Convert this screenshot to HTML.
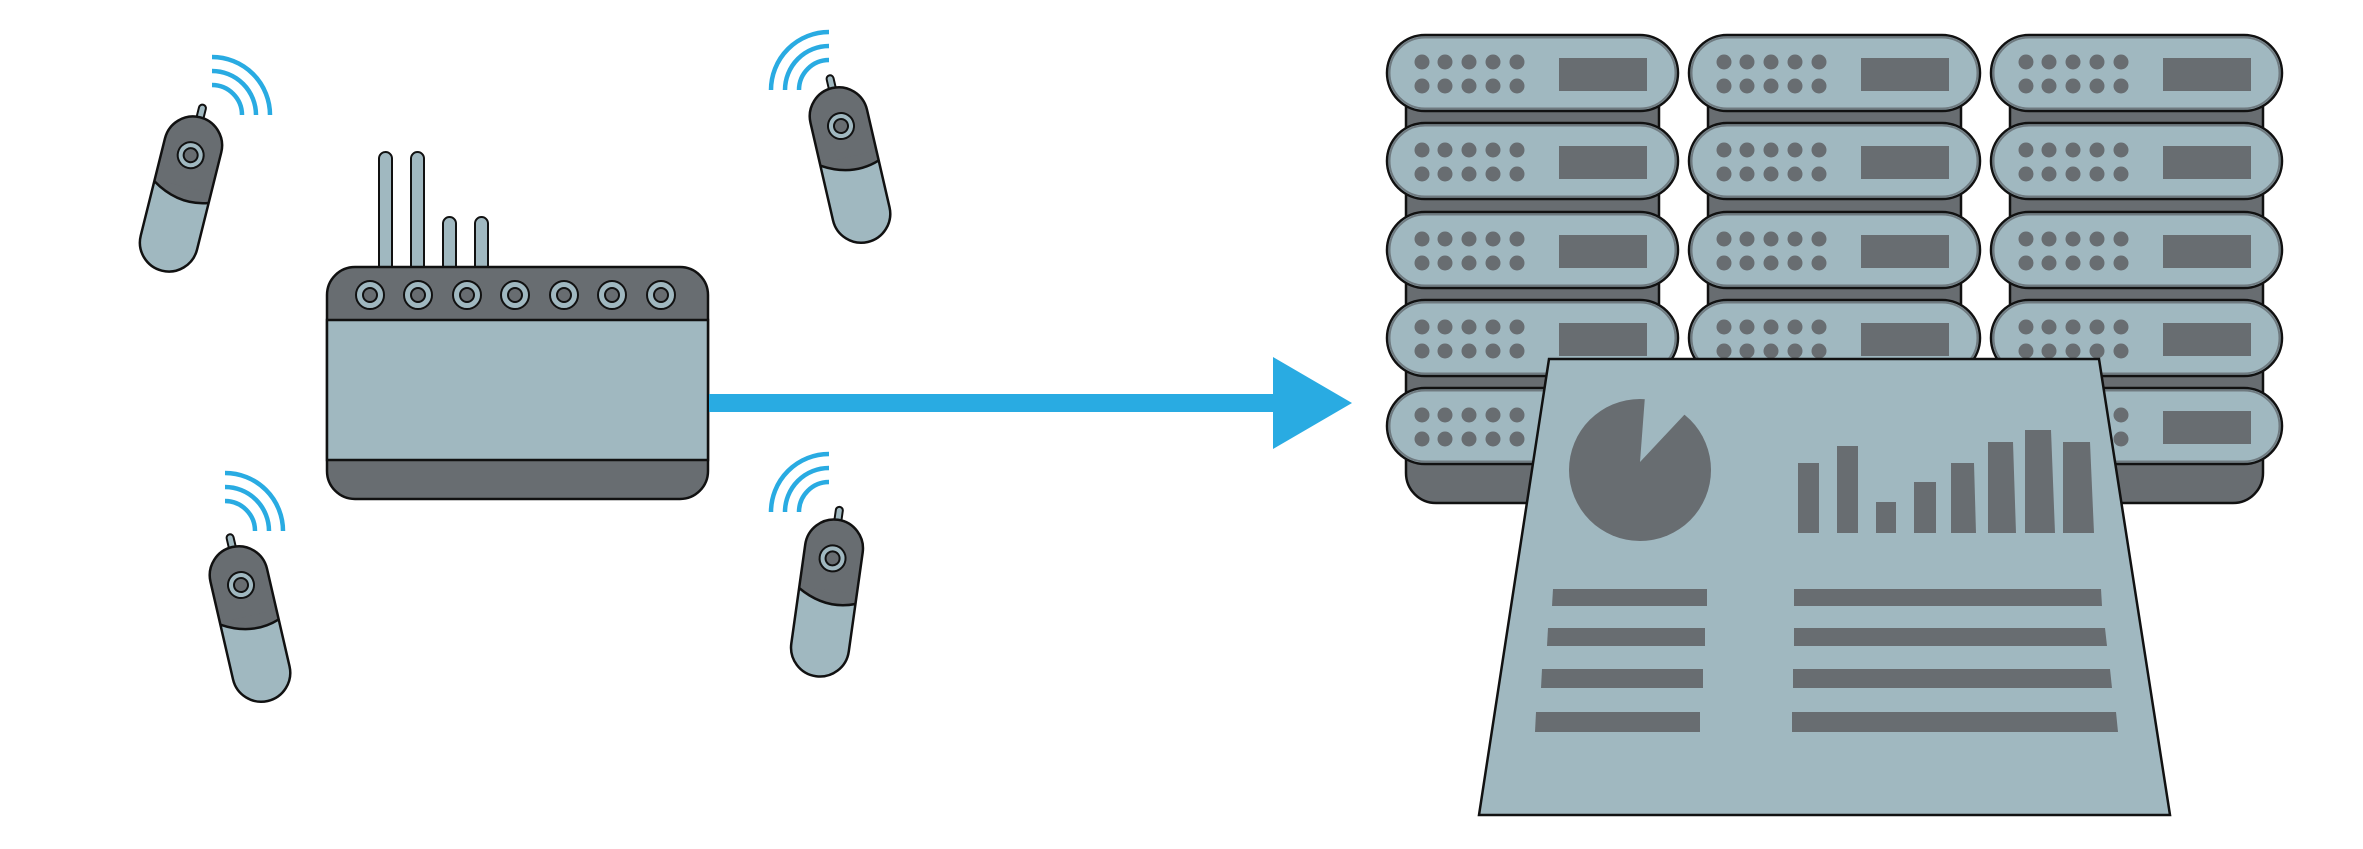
<!DOCTYPE html>
<html><head><meta charset="utf-8"><style>html,body{margin:0;padding:0;background:#fff}svg{display:block}</style></head>
<body>
<svg width="2363" height="849" viewBox="0 0 2363 849" xmlns="http://www.w3.org/2000/svg">
<defs>
  <g id="dev">
    <rect x="-3.5" y="-92" width="7" height="16" rx="3.5" fill="#a0b8c0" stroke="#111" stroke-width="2"/>
    <path d="M-29,0 L-29,-50 A29,29 0 0 1 29,-50 L29,0 Z" fill="#686d71"/>
    <path d="M-29,-5 L-29,50 A29,29 0 0 0 29,50 L29,-5 Z" fill="#a0b8c0"/>
    <path d="M-29,-6 Q0,12 29,2 L29,-8 L-29,-8 Z" fill="#686d71"/>
    <path d="M-29,-6 Q0,12 29,2" fill="none" stroke="#111" stroke-width="2.5"/>
    <rect x="-29" y="-79" width="58" height="158" rx="29" fill="none" stroke="#111" stroke-width="2.5"/>
    <circle cx="0" cy="-40" r="13" fill="#a0b8c0" stroke="#111" stroke-width="2"/>
    <circle cx="0" cy="-40" r="7" fill="#686d71" stroke="#111" stroke-width="2"/>
  </g>
  <g id="wr" fill="none" stroke="#29abe2" stroke-width="4.5">
    <path d="M0,-58 A58,58 0 0 1 58,0"/><path d="M0,-44 A44,44 0 0 1 44,0"/><path d="M0,-30 A30,30 0 0 1 30,0"/>
  </g>
  <g id="wl" fill="none" stroke="#29abe2" stroke-width="4.5">
    <path d="M0,-58 A58,58 0 0 0 -58,0"/><path d="M0,-44 A44,44 0 0 0 -44,0"/><path d="M0,-30 A30,30 0 0 0 -30,0"/>
  </g>
  <g id="unit">
    <rect x="0" y="0" width="291" height="76" rx="38" fill="#a0b8c0" stroke="#111" stroke-width="2.5"/>
    <rect x="2.5" y="2.5" width="286" height="71" rx="35.5" fill="none" stroke="#6f7a80" stroke-width="2"/>
    <g fill="#686d71">
      <circle cx="35" cy="27" r="7.5"/><circle cx="58" cy="27" r="7.5"/><circle cx="82" cy="27" r="7.5"/><circle cx="106" cy="27" r="7.5"/><circle cx="130" cy="27" r="7.5"/>
      <circle cx="35" cy="51" r="7.5"/><circle cx="58" cy="51" r="7.5"/><circle cx="82" cy="51" r="7.5"/><circle cx="106" cy="51" r="7.5"/><circle cx="130" cy="51" r="7.5"/>
      <rect x="172" y="23" width="88" height="33"/>
    </g>
  </g>
  <g id="rack">
    <path d="M19,60 L272,60 L272,438 A30,30 0 0 1 242,468 L49,468 A30,30 0 0 1 19,438 Z" fill="#686d71" stroke="#111" stroke-width="2.5"/>
    <use href="#unit" y="0"/><use href="#unit" y="88"/><use href="#unit" y="177"/><use href="#unit" y="265"/><use href="#unit" y="353"/>
  </g>
</defs>

<use href="#wr" x="212" y="115"/>
<use href="#wl" x="829" y="90"/>
<use href="#wr" x="225" y="531"/>
<use href="#wl" x="829" y="512"/>

<use href="#dev" transform="translate(181,194) rotate(14)"/>
<use href="#dev" transform="translate(850,165) rotate(-13)"/>
<use href="#dev" transform="translate(250,624) rotate(-13)"/>
<use href="#dev" transform="translate(827,598) rotate(8)"/>

<g fill="#a0b8c0" stroke="#111" stroke-width="2">
  <rect x="379" y="152" width="13" height="120" rx="6.5"/>
  <rect x="411" y="152" width="13" height="120" rx="6.5"/>
  <rect x="443" y="217" width="13" height="55" rx="6.5"/>
  <rect x="475" y="217" width="13" height="55" rx="6.5"/>
</g>
<rect x="327" y="267" width="381" height="232" rx="28" fill="#686d71" stroke="#111" stroke-width="2.5"/>
<rect x="327" y="320" width="381" height="140" fill="#a0b8c0" stroke="#111" stroke-width="2.5"/>
<g fill="#a0b8c0" stroke="#111" stroke-width="2">
  <circle cx="370" cy="295" r="14"/><circle cx="418" cy="295" r="14"/><circle cx="467" cy="295" r="14"/><circle cx="515" cy="295" r="14"/><circle cx="564" cy="295" r="14"/><circle cx="612" cy="295" r="14"/><circle cx="661" cy="295" r="14"/>
</g>
<g fill="#686d71" stroke="#111" stroke-width="2">
  <circle cx="370" cy="295" r="7"/><circle cx="418" cy="295" r="7"/><circle cx="467" cy="295" r="7"/><circle cx="515" cy="295" r="7"/><circle cx="564" cy="295" r="7"/><circle cx="612" cy="295" r="7"/><circle cx="661" cy="295" r="7"/>
</g>

<rect x="709" y="394" width="567" height="18" fill="#29abe2"/>
<polygon points="1273,357 1352,403 1273,449" fill="#29abe2"/>

<use href="#rack" x="1387" y="35"/>
<use href="#rack" x="1689" y="35"/>
<use href="#rack" x="1991" y="35"/>

<polygon points="1549,359 2099,359 2170,815 1479,815" fill="#a0b8c0" stroke="#111" stroke-width="2.5"/>
<circle cx="1640" cy="470" r="71" fill="#686d71"/>
<polygon points="1645,396 1640,462 1686,413 1700,396" fill="#a0b8c0"/>
<g fill="#686d71">
  <rect x="1798" y="463" width="21" height="70"/>
  <rect x="1837" y="446" width="21" height="87"/>
  <rect x="1876" y="502" width="20" height="31"/>
  <rect x="1914" y="482" width="22" height="51"/>
  <polygon points="1951,463 1974,463 1976,533 1951,533"/>
  <polygon points="1988,442 2013,442 2016,533 1988,533"/>
  <polygon points="2025,430 2051,430 2055,533 2025,533"/>
  <polygon points="2063,442 2090,442 2094,533 2063,533"/>
  <polygon points="1553,589 1707,589 1707,606 1552,606"/>
  <polygon points="1548,628 1705,628 1705,646 1547,646"/>
  <polygon points="1542,669 1703,669 1703,688 1541,688"/>
  <polygon points="1536,712 1700,712 1700,732 1535,732"/>
  <polygon points="1794,589 2101,589 2102,606 1794,606"/>
  <polygon points="1794,628 2105,628 2107,646 1794,646"/>
  <polygon points="1793,669 2110,669 2112,688 1793,688"/>
  <polygon points="1792,712 2116,712 2118,732 1792,732"/>
</g>
</svg>
</body></html>
